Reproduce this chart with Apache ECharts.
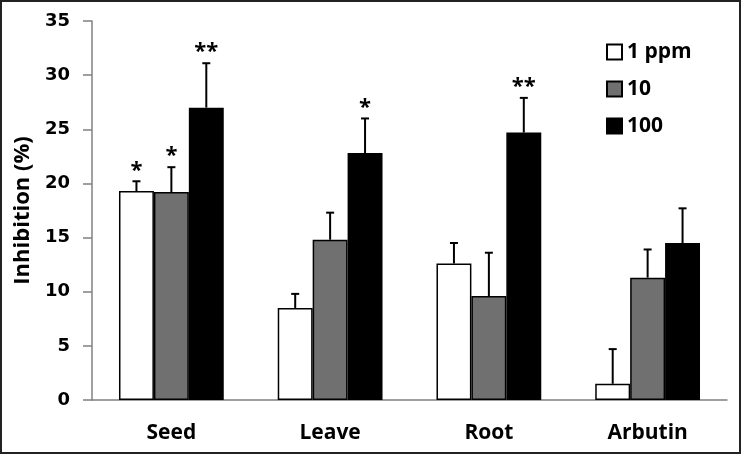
<!DOCTYPE html>
<html>
<head>
<meta charset="utf-8">
<script src="https://cdn.jsdelivr.net/npm/echarts@6/dist/echarts.min.js"></script>
<style>
html,body{margin:0;padding:0;background:#fff;}
#chart{width:741px;height:454px;}
</style>
</head>
<body>
<div id="chart"></div>
<script>
var categories = ['Seed', 'Leave', 'Root', 'Arbutin'];
var seriesNames = ['1 ppm', '10', '100'];
var ppm1 = [19.3, 8.5, 12.6, 1.5];
var ppm1Err = [0.9, 1.3, 1.9, 3.2];
var ppm10 = [19.2, 14.8, 9.6, 11.3];
var ppm10Err = [2.3, 2.5, 4.0, 2.6];
var ppm100 = [27.0, 22.8, 24.7, 14.5];
var ppm100Err = [4.1, 3.2, 3.2, 3.2];
var stars1 = ['*', '', '', ''];
var stars10 = ['*', '', '', ''];
var stars100 = ['**', '*', '**', ''];
var yTicks = [0, 5, 10, 15, 20, 25, 30, 35];

var FONT = '"Open Sans", "DejaVu Sans", sans-serif';
var TICKFONT = '"DejaVu Sans", sans-serif';
var colors = ['#ffffff', '#707070', '#000000'];
var values = [ppm1, ppm10, ppm100];
var errs = [ppm1Err, ppm10Err, ppm100Err];
var stars = [stars1, stars10, stars100];
var BAR_FRAC = 0.22;

var series = [];
for (var s = 0; s < 3; s++) {
  series.push({
    name: seriesNames[s],
    type: 'bar',
    data: values[s],
    barWidth: (BAR_FRAC * 100) + '%',
    barGap: '0%',
    itemStyle: { color: colors[s], borderColor: '#000', borderWidth: 1.5 },
    z: 2
  });
}
for (var s2 = 0; s2 < 3; s2++) {
  (function (si) {
    var d = categories.map(function (c, i) {
      return [i, values[si][i], values[si][i] + errs[si][i], stars[si][i]];
    });
    series.push({
      type: 'custom',
      name: seriesNames[si] + ' err',
      data: d,
      z: 3,
      silent: true,
      renderItem: function (params, api) {
        var ci = api.value(0);
        var base = api.coord([ci, api.value(1)]);
        var top = api.coord([ci, api.value(2)]);
        var band = api.size([1, 0])[0];
        var bw = band * BAR_FRAC;
        var x = base[0] + (si - 1) * bw;
        var cap = 4;
        var star = d[params.dataIndex][3];
        var children = [
          { type: 'line', shape: { x1: x, y1: base[1], x2: x, y2: top[1] }, style: { stroke: '#000', lineWidth: 2 } },
          { type: 'line', shape: { x1: x - cap, y1: top[1], x2: x + cap, y2: top[1] }, style: { stroke: '#000', lineWidth: 2 } }
        ];
        if (star) {
          children.push({
            type: 'text',
            style: { text: star, x: x, y: top[1] - 11, align: 'center', verticalAlign: 'middle', font: 'bold 22px ' + FONT, fill: '#000' }
          });
        }
        return { type: 'group', children: children };
      }
    });
  })(s2);
}

var chart = echarts.init(document.getElementById('chart'));
chart.setOption({
  animation: false,
  backgroundColor: '#ffffff',
  grid: { left: 92, right: 14, top: 21, bottom: 54, containLabel: false, outerBoundsMode: 'none' },
  legend: {
    data: seriesNames,
    orient: 'vertical',
    left: 601,
    top: 36,
    itemWidth: 15,
    itemHeight: 15,
    itemGap: 15,
    icon: 'rect',
    textStyle: { fontFamily: FONT, fontWeight: 'bold', fontSize: 21, color: '#000', lineHeight: 22 }
  },
  xAxis: {
    type: 'category',
    data: categories,
    axisLine: { lineStyle: { color: '#808080', width: 1.5 } },
    axisTick: { show: false },
    axisLabel: { fontFamily: FONT, fontWeight: 'bold', fontSize: 21, color: '#000', margin: 23 }
  },
  yAxis: {
    type: 'value',
    min: 0,
    max: 35,
    interval: 5,
    name: 'Inhibition (%)',
    nameLocation: 'middle',
    nameGap: 58,
    nameTextStyle: { fontFamily: FONT, fontWeight: 'bold', fontSize: 22, color: '#000' },
    axisLine: { show: true, lineStyle: { color: '#808080', width: 1.5 } },
    axisTick: { show: true, length: 9, lineStyle: { color: '#808080', width: 1.5 } },
    splitLine: { show: false },
    axisLabel: {
      fontFamily: TICKFONT, fontWeight: 'bold', fontSize: 18, color: '#000', margin: 22,
      formatter: function (v) { return yTicks.indexOf(v) >= 0 ? String(v) : ''; }
    }
  },
  graphic: [{
    type: 'rect',
    shape: { x: 1, y: 1, width: 739, height: 452 },
    style: { fill: 'none', stroke: '#222', lineWidth: 2 },
    silent: true
  }],
  series: series
});
</script>
</body>
</html>
